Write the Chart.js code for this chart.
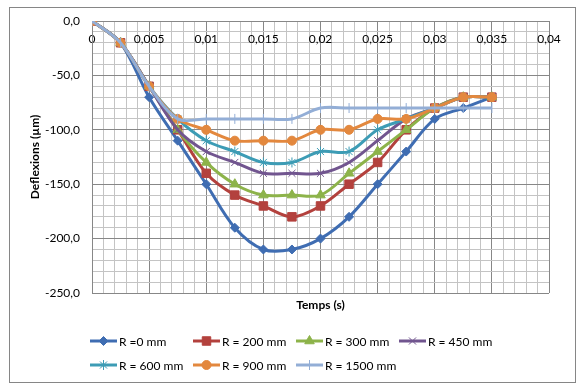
<!DOCTYPE html>
<html>
<head>
<meta charset="utf-8">
<script src="https://cdn.jsdelivr.net/npm/chart.js@4.4.1/dist/chart.umd.min.js"></script>
<style>
  html, body { margin: 0; padding: 0; background: #fff; }
  #wrap { width: 583px; height: 387px; }
</style>
</head>
<body>
<div id="wrap"><canvas id="defChart" width="583" height="387"></canvas></div>
<script>
// time in seconds
const temps = [0, 0.0025, 0.005, 0.0075, 0.01, 0.0125, 0.015, 0.0175, 0.02, 0.0225, 0.025, 0.0275, 0.03, 0.0325, 0.035];

const labels = ['R =0 mm', 'R = 200 mm', 'R = 300 mm', 'R = 450 mm', 'R = 600 mm', 'R = 900 mm', 'R = 1500 mm'];

const r0    = [0, -20, -70, -110, -150, -190, -210, -210, -200, -180, -150, -120, -90, -80, -70];
const r200  = [0, -20, -60, -100, -140, -160, -170, -180, -170, -150, -130, -100, -80, -70, -70];
const r300  = [0, -20, -60, -100, -130, -150, -160, -160, -160, -140, -120, -100, -80, -70, -70];
const r450  = [0, -20, -60, -100, -120, -130, -140, -140, -140, -130, -110, -90, -80, -70, -70];
const r600  = [0, -20, -60, -90, -110, -120, -130, -130, -120, -120, -100, -90, -80, -70, -70];
const r900  = [0, -20, -60, -90, -100, -110, -110, -110, -100, -100, -90, -90, -80, -70, -70];
const r1500 = [0, -20, -60, -90, -90, -90, -90, -90, -80, -80, -80, -80, -80, -80, -80];

const xTicksMajor = 0.005;
const yTicksMajor = 50;

const series = [r0, r200, r300, r450, r600, r900, r1500];
const colors = ['#3F6DB2', '#B3413D', '#8DB34A', '#71558F', '#3D9CB5', '#E3883E', '#93AED6'];
const styles = [
  { pointStyle: 'rectRot', radius: 4.5, rotation: 0 },
  { pointStyle: 'rect', radius: 6, rotation: 0 },
  { pointStyle: 'triangle', radius: 5.5, rotation: 0 },
  { pointStyle: 'crossRot', radius: 5, rotation: 0 },
  { pointStyle: 'star', radius: 5, rotation: 0 },
  { pointStyle: 'circle', radius: 4.5, rotation: 0 },
  { pointStyle: 'line', radius: 5, rotation: 90 },
];

Chart.defaults.font.family = 'Lato';
Chart.defaults.font.size = 12;
Chart.defaults.color = '#000';

const isMult = (v, step) => Math.abs(v / step - Math.round(v / step)) < 1e-6;

const datasets = series.map((vals, i) => ({
  label: labels[i],
  data: vals.map((v, j) => ({ x: temps[j], y: v })),
  borderColor: colors[i],
  backgroundColor: colors[i],
  borderWidth: 3,
  pointStyle: styles[i].pointStyle,
  pointRotation: styles[i].rotation,
  pointRadius: styles[i].radius,
  pointBackgroundColor: colors[i],
  pointBorderColor: colors[i],
  pointBorderWidth: 1,
  tension: 0.33,
  order: series.length - i,
  fill: false,
}));

const frame = {
  id: 'frame',
  beforeDraw(chart) {
    const ctx = chart.ctx;
    ctx.save();
    ctx.fillStyle = '#fff';
    ctx.fillRect(0, 0, chart.width, chart.height);
    ctx.strokeStyle = '#868686';
    ctx.lineWidth = 1;
    ctx.strokeRect(9.5, 7.5, 566, 375);
    ctx.restore();
  },
  afterDraw(chart) {
    const ctx = chart.ctx;
    const area = chart.chartArea;
    ctx.save();
    ctx.fillStyle = '#000';
    ctx.font = 'bold 12px Lato';
    ctx.textAlign = 'center';
    ctx.textBaseline = 'middle';
    ctx.fillText('Temps (s)', (area.left + area.right) / 2, 305);
    ctx.translate(35, (area.top + area.bottom) / 2);
    ctx.rotate(-Math.PI / 2);
    ctx.fillText('Deflexions (\u00b5m)', 0, 0);
    ctx.restore();

    // legend, fixed columns like the original
    ctx.save();
    ctx.font = '12px Lato';
    ctx.textBaseline = 'middle';
    ctx.textAlign = 'left';
    chart.data.datasets.forEach((ds, i) => {
      const col = i % 4, row = Math.floor(i / 4);
      const x0 = 90 + col * 103;
      const y = 341 + row * 24;
      ctx.strokeStyle = ds.borderColor;
      ctx.fillStyle = ds.borderColor;
      ctx.lineWidth = 3;
      ctx.beginPath();
      ctx.moveTo(x0, y);
      ctx.lineTo(x0 + 27, y);
      ctx.stroke();
      ctx.lineWidth = 1;
      Chart.helpers.drawPoint(ctx, {
        pointStyle: ds.pointStyle,
        rotation: ds.pointRotation,
        radius: ds.pointRadius,
        borderWidth: 1,
      }, x0 + 13.5, y);
      ctx.fillStyle = '#000';
      ctx.fillText(ds.label, x0 + 29, y + 1);
    });
    ctx.restore();
  }
};

new Chart(document.getElementById('defChart'), {
  type: 'line',
  data: { datasets },
  options: {
    responsive: false,
    animation: false,
    layout: { padding: { left: 10, top: 21, right: 34, bottom: 94 } },
    plugins: { legend: { display: false }, tooltip: { enabled: false } },
    scales: {
      x: {
        type: 'linear',
        position: { y: 0 },
        min: 0,
        max: 0.04,
        grid: {
          drawTicks: false,
          color: (c) => (c.tick && isMult(c.tick.value, xTicksMajor)) ? '#878787' : '#c4c4c4',
        },
        border: { color: '#878787' },
        ticks: {
          stepSize: 0.001,
          autoSkip: false,
          maxRotation: 0,
          padding: 11,
          callback: (v) => isMult(v, xTicksMajor) ? String(Math.round(v * 1000) / 1000).replace('.', ',') : '',
        },
      },
      y: {
        min: -250,
        max: 0,
        afterFit: (s) => { s.width = 82; },
        grid: {
          drawTicks: false,
          color: (c) => (c.tick && isMult(c.tick.value, yTicksMajor)) ? '#878787' : '#c4c4c4',
        },
        border: { color: '#878787' },
        ticks: {
          stepSize: 10,
          autoSkip: false,
          padding: 12,
          callback: (v) => isMult(v, yTicksMajor) ? (Math.round(v) + 0).toFixed(1).replace('.', ',') : '',
        },
      },
    },
  },
  plugins: [frame],
});
</script>
</body>
</html>
